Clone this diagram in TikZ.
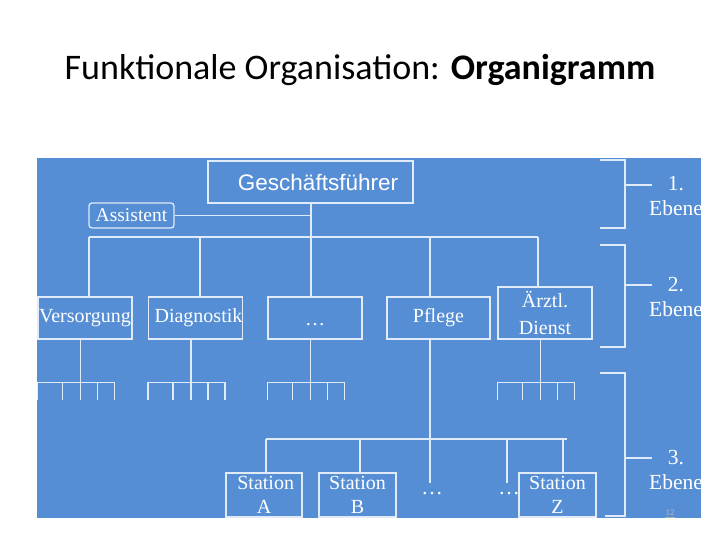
\documentclass[tikz,border=0pt]{standalone}
\usepackage{fontspec}
\setmainfont{Liberation Serif}
\newfontfamily\slidefont{Carlito}
\newfontfamily\boxsans{Liberation Sans}
\usepackage{xcolor}
\usepackage{tikz}
\usetikzlibrary{calc}
\definecolor{slideblue}{RGB}{85,142,213}
\definecolor{paleline}{RGB}{224,234,248}
\tikzset{
  ob/.style={draw=paleline,line width=1.3pt,inner sep=0pt,text=white,font=\fontsize{20}{24}\selectfont,align=center},
  rb/.style={ob,rounded corners=3pt},
  ln/.style={paleline,line width=1.3pt},
  lv/.style={text=white,font=\fontsize{21.5}{25}\selectfont,align=center,inner sep=0pt}
}
\newcommand{\comb}[1]{\draw[ln] ($(#1.south west)+(43,0)$) -- ++(0,60); \draw[ln] ($(#1.south west)+(0,60)$) |- ++(77,-17) -- ++(0,17); \foreach \cx in {25,60} \draw[ln] ($(#1.south west)+(\cx,43)$) -- ++(0,17);}

\begin{document}
\begin{tikzpicture}[x=1pt,y=-1pt]
\useasboundingbox (0,0) rectangle (720,540);
\node[anchor=base,font=\slidefont\fontsize{36}{42}\selectfont] (title) at (360,80) {Funktionale Organisation: \textbf{Organigramm}};
\fill[slideblue] (37,158) rectangle (701,518);
\begin{scope}
\clip (37,158) rectangle (701,518);
\node[ob,font=\boxsans\fontsize{22.5}{26}\selectfont,minimum width=205pt,minimum height=42pt] (gf) at (310.5,182) {\hspace*{15pt}Geschäftsführer};
\node[rb,font=\fontsize{19.5}{24}\selectfont,minimum width=85pt,minimum height=25pt] (ass) at (131.5,215.5) {Assistent};
\node[ob,minimum width=94pt,minimum height=42pt] (vers) at (85,318) {Versorgung};
\node[ob,minimum width=93pt,minimum height=42pt] (diag) at (195.5,318) {\hspace*{6pt}Diagnostik};
\node[ob,minimum width=94pt,minimum height=42pt] (dots1) at (315,318) {\ldots\rule{0pt}{16pt}};
\node[ob,minimum width=103pt,minimum height=42pt] (pfl) at (438.5,318) {Pflege};
\node[ob,font=\fontsize{20}{27}\selectfont,minimum width=94pt,minimum height=52pt] (arzt) at (545,313) {Ärztl.\\Dienst};
\node[ob,minimum width=76pt,minimum height=44pt] (staA) at (264,495) {\,Station\\A};
\node[ob,minimum width=77pt,minimum height=44pt] (staB) at (357.5,495) {Station\\B};
\node[ob,minimum width=77pt,minimum height=44pt] (staZ) at (557.5,495) {Station\\Z};
\node[lv] (dotsC) at (432,494) {\ldots};
\node[lv] (dotsD) at (509,494) {\ldots};
\coordinate (b2) at (311,237); \coordinate (b2l) at (89,237); \coordinate (b2r) at (538,237);
\draw[ln] (gf.south -| b2) -- (b2); \draw[ln] (ass.east) -- (ass.east -| b2); \draw[ln] (b2l) -- (b2r);
\foreach \n/\x in {vers/89,diag/200,dots1/311,pfl/430,arzt/538} {\coordinate (t\n) at (\x,237); \draw[ln] (t\n) -- (t\n |- \n.north);}
\comb{vers} \comb{diag} \comb{dots1} \comb{arzt}
\coordinate (b3) at (430,439); \coordinate (e3) at (430,483); \coordinate (b3l) at (266,439); \coordinate (b3r) at (567,439);
\draw[ln] (b3 |- pfl.south) -- (e3); \draw[ln] (b3l) -- (b3r);
\foreach \n/\x in {staA/266,staB/360,staZ/563} {\coordinate (u\n) at (\x,439); \draw[ln] (u\n) -- (u\n |- \n.north);}
\coordinate (u4) at (507,439); \coordinate (e4) at (507,483); \draw[ln] (u4) -- (e4);
% Ebenen
\draw[ln] (600,160) -| (625,228) -- (600,228); \draw[ln] (625,185) -- (652,185); \node[lv] (lv1) at (676,196) {1.\\Ebene};
\draw[ln] (600,245) -| (625,347) -- (600,347); \draw[ln] (625,285) -- (652,285); \node[lv] (lv2) at (676,297) {2.\\Ebene};
\draw[ln] (600,373) -| (625,516) -- (605,516); \draw[ln] (625,458) -- (652,458); \node[lv] (lv3) at (676,470) {3.\\Ebene};
\end{scope}
\node[text=gray!60,font=\slidefont\fontsize{9}{10}\selectfont] (pnum) at (670,514) {\underline{12}};
\end{tikzpicture}
\end{document}
